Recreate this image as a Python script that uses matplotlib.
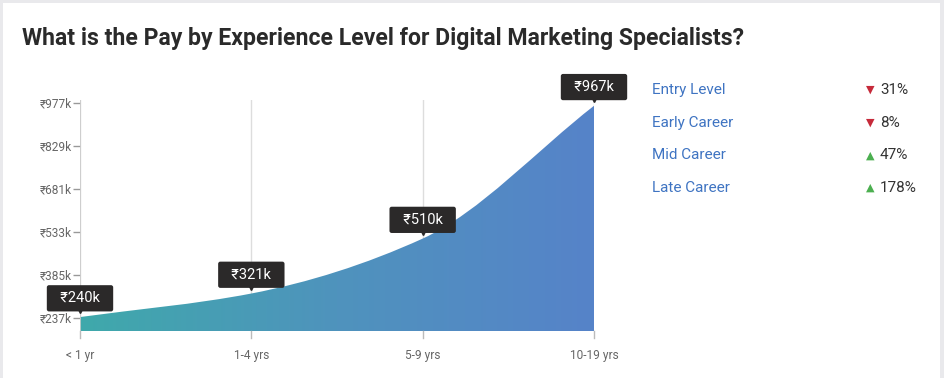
import numpy as np
import matplotlib
matplotlib.use("Agg")
import matplotlib.pyplot as plt
from matplotlib.path import Path
from matplotlib.patches import PathPatch, Rectangle
from matplotlib.colors import LinearSegmentedColormap
from matplotlib.transforms import ScaledTranslation

plt.rcParams['font.family'] = ['Roboto', 'DejaVu Sans']

# data
levels = ["< 1 yr", "1-4 yrs", "5-9 yrs", "10-19 yrs"]
pay_k = [240, 321, 510, 967]
y_ticks = [237, 385, 533, 681, 829, 977]
career_names = ["Entry Level", "Early Career", "Mid Career", "Late Career"]
career_change = [-31, -8, 47, 178]

fig = plt.figure(figsize=(9.45, 3.78), dpi=100)
fig.patch.set_facecolor('#e9e9ec')
# white card
fig.add_artist(Rectangle((3 / 945, 0), 937 / 945, 375 / 378, transform=fig.transFigure,
                         facecolor='white', edgecolor='none', zorder=0))

fig.text(22 / 945, 1 - 38 / 378, "What is the Pay by Experience Level for Digital Marketing Specialists?",
         fontsize=16.6, fontweight='bold', color='#2a2a2a', va='center', ha='left')

ax = fig.add_axes([80 / 945, 1 - 331 / 378, (594 - 80) / 945, (331 - 100) / 378])
ax.set_facecolor('none')
x = np.arange(len(pay_k))
y = np.array(pay_k, dtype=float)
ymin, ymax = 192, 987
ax.set_xlim(0, len(pay_k) - 1)
ax.set_ylim(ymin, ymax)

# monotone cubic (Fritsch-Carlson) tangents -> bezier path
d = np.diff(y) / np.diff(x)
m = np.zeros_like(y)
m[0], m[-1] = d[0], d[-1]
for i in range(1, len(y) - 1):
    if d[i - 1] * d[i] > 0:
        m[i] = 2 / (1 / d[i - 1] + 1 / d[i])
verts = [(x[0], ymin), (x[0], y[0])]
codes = [Path.MOVETO, Path.LINETO]
for i in range(len(y) - 1):
    h = x[i + 1] - x[i]
    verts += [(x[i] + h / 3, y[i] + m[i] * h / 3),
              (x[i + 1] - h / 3, y[i + 1] - m[i + 1] * h / 3),
              (x[i + 1], y[i + 1])]
    codes += [Path.CURVE4] * 3
verts += [(x[-1], ymin), (x[0], ymin)]
codes += [Path.LINETO, Path.CLOSEPOLY]
area = PathPatch(Path(verts, codes), facecolor='none', edgecolor='none')
ax.add_patch(area)

cmap = LinearSegmentedColormap.from_list('pay', ['#3fa9ab', '#4f93bd', '#5683c9'])
grad = np.linspace(0, 1, 256).reshape(1, -1)
im = ax.imshow(grad, cmap=cmap, aspect='auto', extent=[0, 3, ymin, ymax], zorder=1,
               interpolation='bilinear')
im.set_clip_path(area)

# grid lines / axis
for xi in x:
    ax.plot([xi, xi], [ymin, ymax], color='#dddddd', lw=1, zorder=0.5)
    ax.plot([xi, xi], [ymin - 7 * 3.44, ymin], color='#bbbbbb', lw=1, clip_on=False)
ax.plot([0, 0], [ymin, ymax], color='#cccccc', lw=1.2, zorder=2)

for s in ax.spines.values():
    s.set_visible(False)
ax.set_yticks(y_ticks)
ax.set_yticklabels([f"₹{v}k" for v in y_ticks])
ax.tick_params(axis='y', length=5, width=1, color='#999999', labelcolor='#666666',
               labelsize=8.6, pad=1)
ax.set_xticks(x)
ax.set_xticklabels(levels)
ax.tick_params(axis='x', length=0, labelcolor='#666666', labelsize=8.6, pad=13)

# value callouts
shift = ax.transData + ScaledTranslation(0, 5 / 72, fig.dpi_scale_trans)
for xi, v in zip(x, pay_k):
    ax.annotate(f"  ₹{v}k  ", (xi, v), xytext=(0, 13.5), textcoords='offset points',
                ha='center', va='center', color='white', fontsize=10.5, zorder=5,
                bbox=dict(boxstyle='round,pad=0.42,rounding_size=0.15', fc='#2b2929', ec='none'),
                annotation_clip=False)
    ax.plot(xi, v, marker='v', ms=5, color='#2b2929', zorder=5, clip_on=False, transform=shift)

# right-hand legend
for i, (name, ch) in enumerate(zip(career_names, career_change)):
    yy = 1 - (90 + i * 32.7) / 378
    fig.text(652 / 945, yy, name, fontsize=11, color='#3f74c2', va='center', ha='left')
    up = ch > 0
    fig.text(870 / 945, yy, '▲' if up else '▼', fontsize=8, color='#4caf50' if up else '#c62a3a',
             va='center', ha='center', family=['DejaVu Sans'])
    fig.text(880 / 945, yy, f"{abs(ch)}%", fontsize=11, color='#333333', va='center', ha='left')

fig.savefig('out.png', dpi=100, facecolor=fig.get_facecolor())
